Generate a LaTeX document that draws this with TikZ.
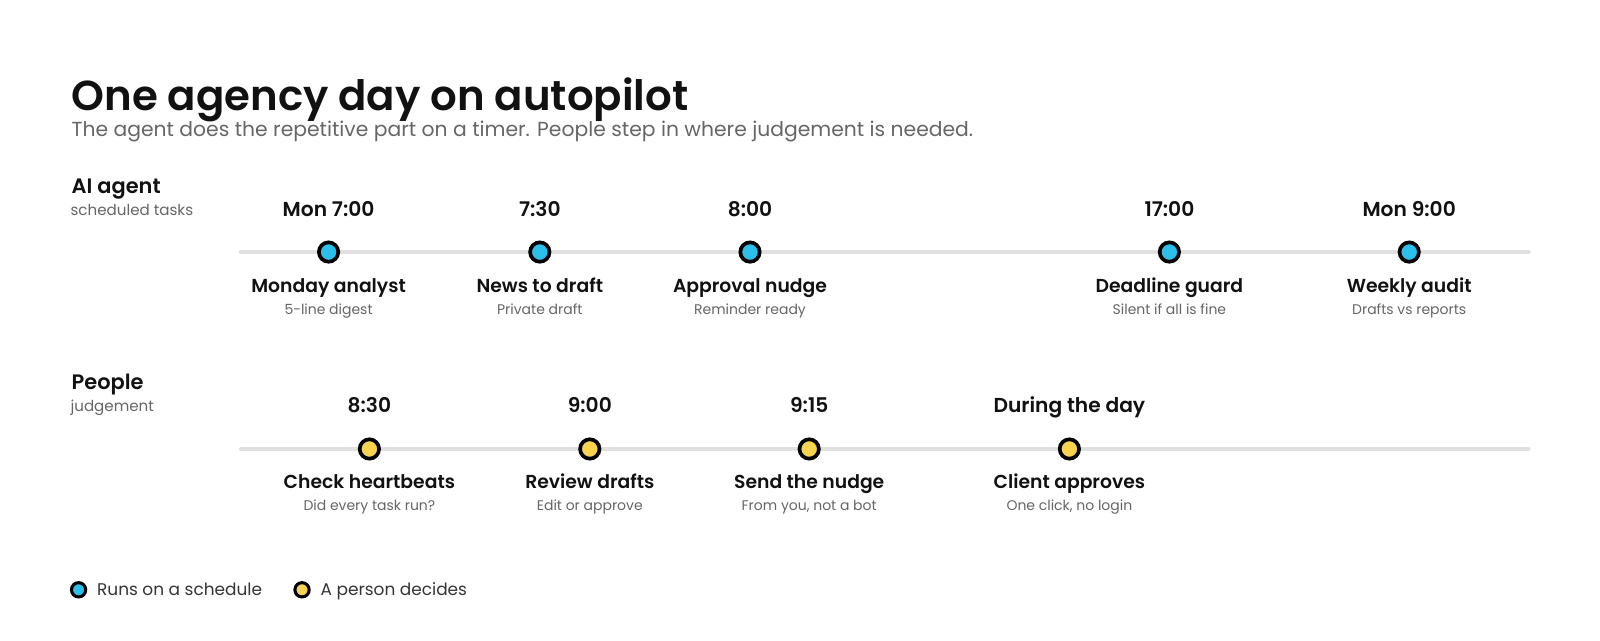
\documentclass[tikz,border=0pt]{standalone}
\usepackage{fontspec}
\setmainfont{Poppins}[BoldFont={Poppins SemiBold}]
\usetikzlibrary{positioning}
\definecolor{agentblue}{HTML}{2BBFEA}
\definecolor{personyellow}{HTML}{F7D34F}
\definecolor{trackgray}{HTML}{E0E0E0}
\definecolor{subgray}{HTML}{666666}
\definecolor{inkblack}{HTML}{111111}

\begin{document}
\begin{tikzpicture}[x=1pt,y=-1pt,
  track/.style={line width=4pt,color=trackgray,line cap=round},
  dot/.style={circle,draw=black,line width=3.6pt,minimum size=19pt,inner sep=0pt},
  keydot/.style={dot,minimum size=14pt,line width=3pt},
  headline/.style={anchor=base west,inner sep=0pt,text=inkblack,font=\fontsize{41}{44}\selectfont\bfseries},
  lead/.style={anchor=base west,inner sep=0pt,text=subgray,font=\fontsize{19.9}{22}\selectfont},
  lanename/.style={anchor=base west,inner sep=0pt,text=inkblack,font=\fontsize{20.5}{22}\selectfont\bfseries},
  lanenote/.style={anchor=base west,inner sep=0pt,text=subgray,font=\fontsize{14.8}{17}\selectfont},
  timelbl/.style={anchor=base,inner sep=0pt,text=inkblack,font=\fontsize{19.8}{22}\selectfont\bfseries},
  tasklbl/.style={anchor=base,inner sep=0pt,text=inkblack,font=\fontsize{18.4}{21}\selectfont\bfseries},
  tasknote/.style={anchor=base,inner sep=0pt,text=subgray,font=\fontsize{13.7}{16}\selectfont},
  keytext/.style={anchor=base west,inner sep=0pt,text=inkblack!85,font=\fontsize{16.6}{19}\selectfont}]
\fill[white] (0,0) rectangle (1568,627.2);
\useasboundingbox (0,0) rectangle (1568,627.2);

% heading
\node[headline] (title) at (70,108) {One agency day on autopilot};
\node[lead] (subtitle) at (70,134) {The agent does the repetitive part on a timer. People step in where judgement is needed.};

% agent lane
\node[lanename] (agent) at (70,190) {AI agent};
\node[lanenote] (agentnote) at (69,211) {scheduled tasks};
\coordinate (agentstart) at (236,247);
\coordinate (agentend) at (1498,247);
\draw[track] (agentstart) -- (agentend);
\foreach \x/\t/\n/\s [count=\i] in {322/Mon 7:00/Monday analyst/5-line digest,
    529/7:30/News to draft/Private draft,
    735/8:00/Approval nudge/Reminder ready,
    1146/17:00/Deadline guard/Silent if all is fine,
    1381/Mon 9:00/Weekly audit/Drafts vs reports}{
  \node[dot,fill=agentblue] (a\i) at (\x,247) {};
  \node[timelbl] (at\i) at (\x,212) {\t};
  \node[tasklbl] (an\i) at (\x,287) {\n};
  \node[tasknote] (as\i) at (\x,308) {\s};
}

% people lane
\node[lanename] (people) at (70,382) {People};
\node[lanenote] (peoplenote) at (69,403) {judgement};
\coordinate (peoplestart) at (236,440);
\coordinate (peopleend) at (1498,440);
\draw[track] (peoplestart) -- (peopleend);
\foreach \x/\t/\n/\s [count=\i] in {362/8:30/Check heartbeats/Did every task run?,
    578/9:00/Review drafts/Edit or approve,
    793/9:15/Send the nudge/{From you, not a bot},
    1048/During the day/Client approves/{One click, no login}}{
  \node[dot,fill=personyellow] (p\i) at (\x,440) {};
  \node[timelbl] (pt\i) at (\x,404) {\t};
  \node[tasklbl] (pn\i) at (\x,479) {\n};
  \node[tasknote] (ps\i) at (\x,500) {\s};
}

% legend
\node[keydot,fill=agentblue] (keyagent) at (77,578) {};
\node[keytext] (keyagenttext) at (95,584) {Runs on a schedule};
\node[keydot,fill=personyellow] (keyperson) at (296,578) {};
\node[keytext] (keypersontext) at (314,584) {A person decides};
\end{tikzpicture}
\end{document}
